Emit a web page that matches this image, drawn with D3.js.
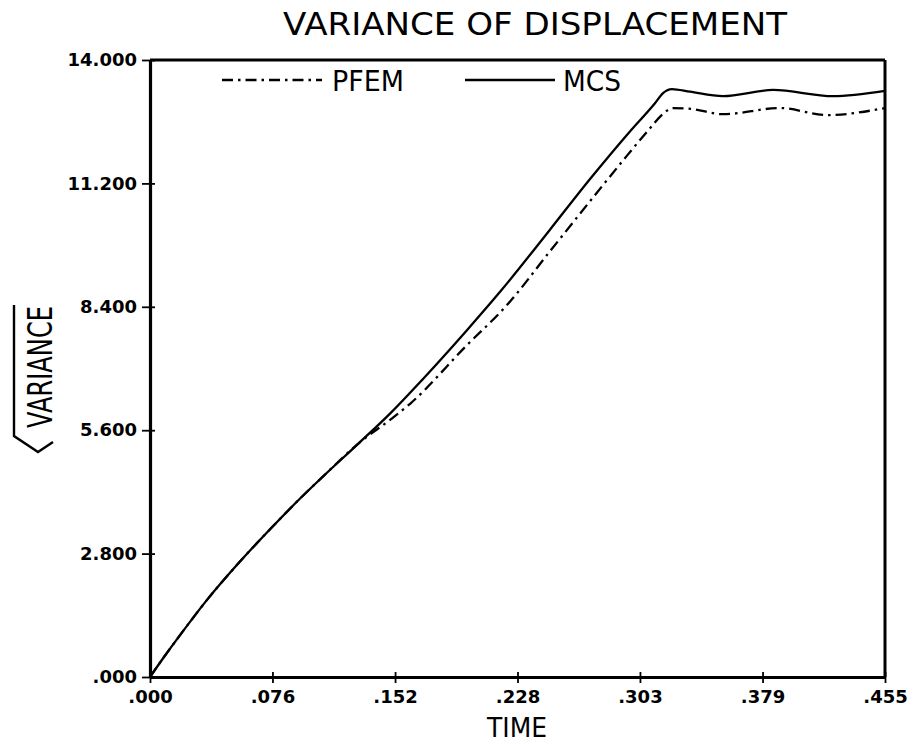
<!DOCTYPE html>
<html>
<head>
<meta charset="utf-8">
<script src="https://cdn.jsdelivr.net/npm/d3@7"></script>
<style>
  html, body { margin: 0; padding: 0; background: #fff; }
  svg { display: block; }
</style>
</head>
<body>
<svg id="chart" width="913" height="745"></svg>
<script>
// ---------------- data ----------------
const titleText = "VARIANCE OF DISPLACEMENT";
const xLabel = "TIME";
const yLabel = "VARIANCE";
const seriesNames = ["PFEM", "MCS"];

const xTickValues = [0, 0.0758, 0.1517, 0.2275, 0.3033, 0.3792, 0.455];
const xTickLabels = [".000", ".076", ".152", ".228", ".303", ".379", ".455"];
const yTickValues = [0, 2.8, 5.6, 8.4, 11.2, 14];
const yTickLabels = [".000", "2.800", "5.600", "8.400", "11.200", "14.000"];

const timeMCS = [0, 0.0080, 0.0186, 0.0353, 0.0557, 0.0761, 0.0929, 0.1071, 0.1300, 0.1492, 0.1610,
                 0.1962, 0.2167, 0.2476, 0.2724, 0.2971, 0.3126, 0.3176, 0.3231, 0.3343, 0.3547,
                 0.3857, 0.4228, 0.4550];
const valueMCS = [0, 0.42, 0.95, 1.75, 2.62, 3.42, 4.05, 4.55, 5.33, 6.00, 6.45,
                  7.87, 8.74, 10.15, 11.30, 12.38, 13.02, 13.25, 13.34, 13.28, 13.18,
                  13.32, 13.18, 13.30];

const timePFEM = [0, 0.0080, 0.0186, 0.0353, 0.0557, 0.0761, 0.0929, 0.1071, 0.1300, 0.1492, 0.1610,
                  0.1962, 0.2210, 0.2476, 0.2804, 0.2953, 0.3095, 0.3176, 0.3238, 0.3350, 0.3547,
                  0.3900, 0.4191, 0.4550];
const valuePFEM = [0, 0.42, 0.95, 1.75, 2.62, 3.42, 4.05, 4.55, 5.33, 5.85, 6.20,
                   7.53, 8.44, 9.66, 11.16, 11.83, 12.45, 12.78, 12.91, 12.89, 12.77,
                   12.91, 12.75, 12.91];

// ---------------- layout ----------------
const svg = d3.select("#chart");
const plotLeft = 150, plotRight = 885, plotTop = 60, plotBottom = 677;
const x = d3.scaleLinear().domain([0, 0.455]).range([plotLeft, plotRight]);
const y = d3.scaleLinear().domain([0, 14]).range([plotBottom, plotTop]);

const narrow = "'DejaVu Sans', sans-serif";
const tickFont = "'DejaVu Sans', Verdana, sans-serif";

// frame (top and right)
svg.append("line").attr("x1", x(0)).attr("x2", x(0.455)).attr("y1", y(14)).attr("y2", y(14))
  .attr("stroke", "#000").attr("stroke-width", 3);
svg.append("line").attr("x1", x(0.455)).attr("x2", x(0.455)).attr("y1", y(14)).attr("y2", y(0))
  .attr("stroke", "#000").attr("stroke-width", 3);

// x axis
const xAxis = d3.axisBottom(x).tickValues(xTickValues)
  .tickFormat((d, i) => xTickLabels[i]).tickSizeInner(6).tickSizeOuter(0).tickPadding(7);
const gx = svg.append("g").attr("transform", `translate(0,${plotBottom})`).call(xAxis);
gx.select(".domain").attr("stroke-width", 3.2);
gx.selectAll(".tick line").attr("y1", -5).attr("stroke-width", 1.8);
gx.selectAll(".tick text").attr("font-family", tickFont).attr("font-weight", "bold")
  .attr("font-size", 18).attr("fill", "#000");

// y axis
const yAxis = d3.axisLeft(y).tickValues(yTickValues)
  .tickFormat((d, i) => yTickLabels[i]).tickSizeInner(8).tickSizeOuter(0).tickPadding(5);
const gy = svg.append("g").attr("transform", `translate(${plotLeft},0)`).call(yAxis);
gy.select(".domain").attr("stroke-width", 3.2);
gy.selectAll(".tick line").attr("x1", 5).attr("stroke-width", 1.8);
gy.selectAll(".tick text").attr("font-family", tickFont).attr("font-weight", "bold")
  .attr("font-size", 18).attr("fill", "#000");

// curves
const line = d3.line().x(d => x(d[0])).y(d => y(d[1])).curve(d3.curveMonotoneX);
const mcs = timeMCS.map((t, i) => [t, valueMCS[i]]);
const pfem = timePFEM.map((t, i) => [t, valuePFEM[i]]);

svg.append("path").datum(mcs).attr("d", line)
  .attr("fill", "none").attr("stroke", "#000").attr("stroke-width", 2.3);
svg.append("path").datum(pfem).attr("d", line)
  .attr("fill", "none").attr("stroke", "#000").attr("stroke-width", 2.3)
  .attr("stroke-dasharray", "11,5,2.5,5");

// fitted text helper
function fitText(px, py, str, size, width, mode, anchor, rot, sx) {
  const s = sx || 1;
  const g = svg.append("g").attr("transform",
    `translate(${px},${py})` + (rot ? ` rotate(${rot})` : "") + ` scale(${s},1)`);
  return g.append("text").attr("x", 0).attr("y", 0).text(str)
    .attr("font-family", narrow).attr("font-size", size)
    .attr("text-anchor", anchor || "start")
    .attr("textLength", width / s).attr("lengthAdjust", mode);
}

// legend
const legY = 80;
svg.append("line").attr("x1", 222).attr("x2", 322).attr("y1", legY).attr("y2", legY)
  .attr("stroke", "#000").attr("stroke-width", 2.3).attr("stroke-dasharray", "11,5,2.5,5");
fitText(332, legY + 11, seriesNames[0], 29, 72, "spacingAndGlyphs");
svg.append("line").attr("x1", 465).attr("x2", 555).attr("y1", legY).attr("y2", legY)
  .attr("stroke", "#000").attr("stroke-width", 2.3);
fitText(563, legY + 11, seriesNames[1], 29, 58, "spacingAndGlyphs");

// title
fitText(283, 35, titleText, 32, 504, "spacingAndGlyphs", "start", 0, 1);

// x label
fitText(517, 737, xLabel, 27, 60, "spacingAndGlyphs", "middle");

// y label with radical sign
fitText(52, 367, yLabel, 33, 122, "spacingAndGlyphs", "middle", -90);
svg.append("path").attr("d", "M14,305 L14,436 L38,452 L53,442")
  .attr("fill", "none").attr("stroke", "#000").attr("stroke-width", 2.4)
  .attr("stroke-linejoin", "miter");
</script>
</body>
</html>
